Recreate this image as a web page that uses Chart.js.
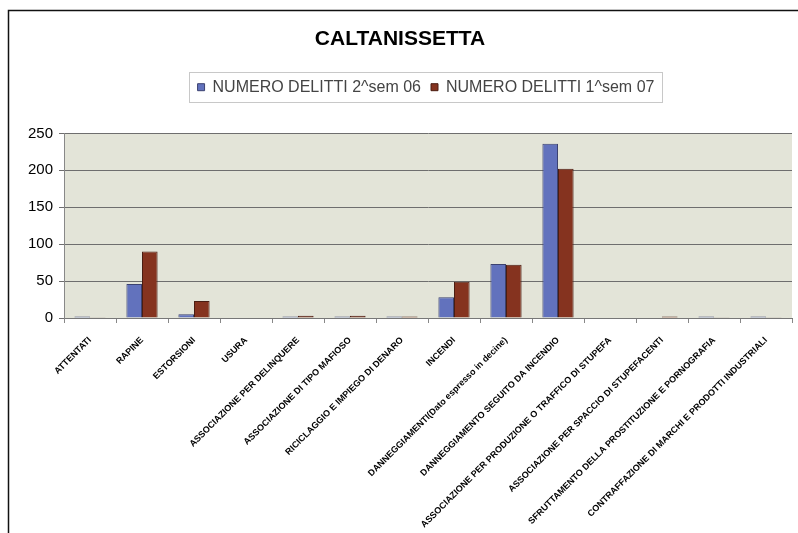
<!DOCTYPE html>
<html>
<head>
<meta charset="utf-8">
<script src="https://cdn.jsdelivr.net/npm/chart.js@4/dist/chart.umd.min.js"></script>
<style>
  html, body { margin: 0; padding: 0; background: #ffffff; }
  #wrap { width: 798px; height: 533px; position: relative; }
</style>
</head>
<body>
<div id="wrap"><canvas id="c" width="798" height="533"></canvas></div>
<script>
const chartTitle = 'CALTANISSETTA';
const categories = [
  'ATTENTATI',
  'RAPINE',
  'ESTORSIONI',
  'USURA',
  'ASSOCIAZIONE PER DELINQUERE',
  'ASSOCIAZIONE DI TIPO MAFIOSO',
  'RICICLAGGIO E IMPIEGO DI DENARO',
  'INCENDI',
  'DANNEGGIAMENTI(Dato espresso in decine)',
  'DANNEGGIAMENTO SEGUITO DA INCENDIO',
  'ASSOCIAZIONE PER PRODUZIONE O TRAFFICO DI STUPEFA',
  'ASSOCIAZIONE PER SPACCIO DI STUPEFACENTI',
  'SFRUTTAMENTO DELLA PROSTITUZIONE E PORNOGRAFIA',
  'CONTRAFFAZIONE DI MARCHI E PRODOTTI INDUSTRIALI'
];
const seriesNames = ['NUMERO DELITTI 2^sem 06', 'NUMERO DELITTI 1^sem 07'];
const sem2_06 = [2, 46, 5, 0, 2, 2, 2, 28, 73, 236, 0, 0, 2, 2];
const sem1_07 = [1, 90, 23, 0, 3, 3, 2, 49, 72, 202, 0, 2, 1, 1];
const yTicks = [0, 50, 100, 150, 200, 250];

const LEGEND_DX = 26, LEGEND_DY = 1;

const decor = {
  id: 'decor',
  afterUpdate(chart) {
    const lg = chart.legend;
    if (!lg) return;
    lg.left += LEGEND_DX; lg.right += LEGEND_DX;
    lg.top += LEGEND_DY; lg.bottom += LEGEND_DY;
    (lg.legendHitBoxes || []).forEach(h => { h.left += LEGEND_DX; h.top += LEGEND_DY; });
  },
  beforeDraw(chart) {
    const ctx = chart.ctx;
    const a = chart.chartArea;
    ctx.save();
    ctx.fillStyle = '#ffffff';
    ctx.fillRect(0, 0, chart.width, chart.height);
    ctx.fillStyle = '#e3e4d8';
    ctx.fillRect(a.left, a.top, a.right - a.left, a.bottom - a.top);
    ctx.strokeStyle = '#111111';
    ctx.lineWidth = 1.5;
    ctx.beginPath();
    ctx.moveTo(8.5, chart.height);
    ctx.lineTo(8.5, 10.5);
    ctx.lineTo(chart.width, 10.5);
    ctx.stroke();
    ctx.restore();
  },
  afterDraw(chart) {
    const lg = chart.legend;
    if (!lg || !lg.legendHitBoxes || !lg.legendHitBoxes.length) return;
    const hb = lg.legendHitBoxes;
    let l = Infinity, r = -Infinity, t = Infinity, b = -Infinity;
    hb.forEach(h => { l = Math.min(l, h.left); r = Math.max(r, h.left + h.width); t = Math.min(t, h.top); b = Math.max(b, h.top + h.height); });
    const cy = (t + b) / 2;
    const ctx = chart.ctx;
    ctx.save();
    ctx.strokeStyle = '#c8c8c8';
    ctx.lineWidth = 1;
    ctx.strokeRect(Math.round(l - 9) + 0.5, Math.round(cy - 15) + 0.5, Math.round(r - l + 16), 30);
    ctx.restore();
  }
};

new Chart(document.getElementById('c'), {
  type: 'bar',
  data: {
    labels: categories,
    datasets: [
      { label: seriesNames[0], data: sem2_06, backgroundColor: '#6272bd', borderColor: '#3c4270', borderWidth: 1, categoryPercentage: 0.6, barPercentage: 1.0 },
      { label: seriesNames[1], data: sem1_07, backgroundColor: '#85331f', borderColor: '#4a1d12', borderWidth: 1, categoryPercentage: 0.6, barPercentage: 1.0 }
    ]
  },
  options: {
    responsive: false,
    animation: false,
    devicePixelRatio: 1,
    layout: { padding: { top: 12, left: 8, right: 6, bottom: 0 } },
    plugins: {
      title: {
        display: true, text: chartTitle, color: '#000000',
        font: { family: 'Liberation Sans, Arial, sans-serif', size: 21, weight: 'bold' },
        padding: { top: 15, bottom: 16 }
      },
      legend: {
        display: true, position: 'top',
        labels: {
          color: '#444444', boxWidth: 7, boxHeight: 7, padding: 10,
          font: { family: 'Liberation Sans, Arial, sans-serif', size: 16 }
        }
      },
      subtitle: {
        display: true, text: ' ', weight: 500, position: 'top',
        font: { size: 1 }, padding: { top: 0, bottom: 28 }
      },
      tooltip: { enabled: false }
    },
    scales: {
      x: {
        grid: { display: true, drawOnChartArea: false, drawTicks: true, tickLength: 5, color: '#888888', offset: true },
        border: { display: true, color: '#777777' },
        ticks: {
          autoSkip: false, maxRotation: 45, minRotation: 45, padding: 12, color: '#000000',
          font: { family: 'Liberation Sans Narrow, Arial Narrow, sans-serif', size: 9, weight: 'bold' }
        },
        afterFit(s) { s.height = 215; }
      },
      y: {
        min: 0, max: 250,
        afterBuildTicks(s) { s.ticks = yTicks.map(v => ({ value: v })); },
        grid: { color: '#6e6e6e', lineWidth: 1, drawTicks: true, tickLength: 5 },
        border: { display: true, color: '#888888' },
        ticks: {
          color: '#000000', padding: 6,
          font: { family: 'Liberation Sans, Arial, sans-serif', size: 15 }
        },
        afterFit(s) { s.width = 56; }
      }
    }
  },
  plugins: [decor]
});
</script>
</body>
</html>
